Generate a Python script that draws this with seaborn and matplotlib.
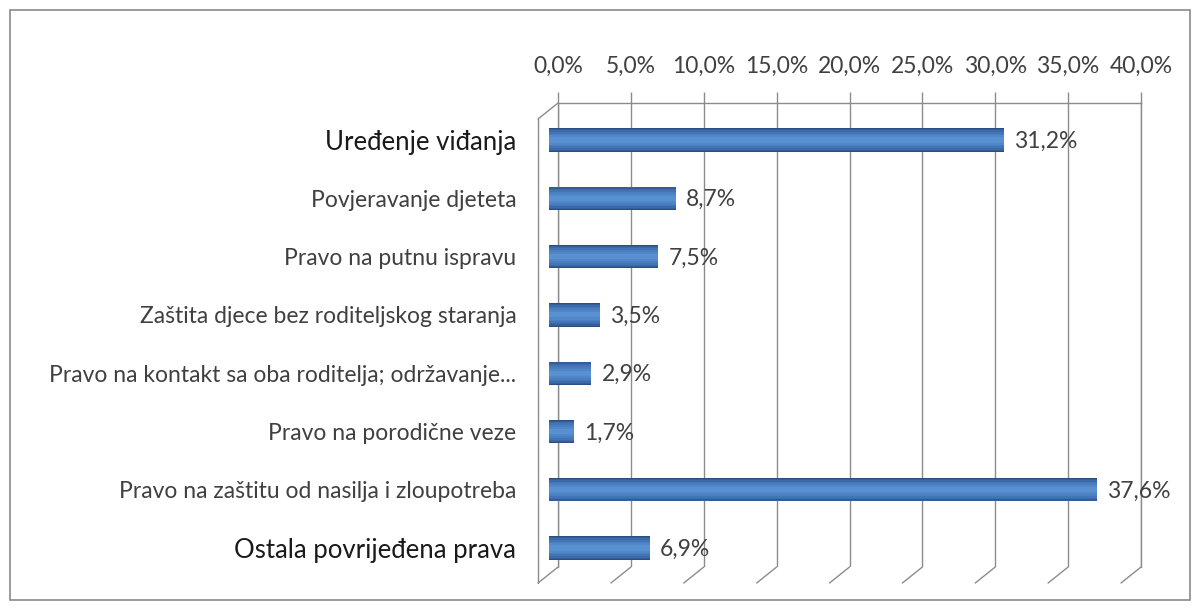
import matplotlib
matplotlib.use("Agg")
import matplotlib.pyplot as plt
import matplotlib.transforms as mtransforms
import seaborn as sns
import pandas as pd
from matplotlib.patches import Rectangle
from matplotlib.ticker import FuncFormatter

# data
categories = [
    "Uređenje viđanja",
    "Povjeravanje djeteta",
    "Pravo na putnu ispravu",
    "Zaštita djece bez roditeljskog staranja",
    "Pravo na kontakt sa oba roditelja; održavanje...",
    "Pravo na porodične veze",
    "Pravo na zaštitu od nasilja i zloupotreba",
    "Ostala povrijeđena prava",
]
values = [31.2, 8.7, 7.5, 3.5, 2.9, 1.7, 37.6, 6.9]
x_ticks = [0, 5, 10, 15, 20, 25, 30, 35, 40]
big_labels = ["Uređenje viđanja", "Ostala povrijeđena prava"]

df = pd.DataFrame({"kategorija": categories, "procenat": values})

sns.set_style("white")
plt.rcParams["font.family"] = ["Lato", "DejaVu Sans"]

fig = plt.figure(figsize=(11.98, 6.08), dpi=100)
ax = fig.add_axes([0.4658, 0.0674, 0.4866, 0.7632])

grid_col = "#8c8c8c"

# cylinder-ish bars: layered from dark edge to light centre
shades = [(0.40, "#2a4f80"), (0.37, "#335e98"), (0.33, "#3b6aa8"), (0.28, "#4274b6"),
          (0.22, "#497ec1"), (0.16, "#5087c9"), (0.09, "#5990d2")]
for w, c in shades:
    sns.barplot(data=df, x="procenat", y="kategorija", orient="h", color=c,
                width=w, saturation=1, linewidth=0, ax=ax)

# shift the bars a bit to the left, like the front face of the 3D chart
shift = mtransforms.ScaledTranslation(-9 / 100, 0, fig.dpi_scale_trans)
for p in ax.patches:
    p.set_transform(ax.transData + shift)
    p.set_clip_on(False)

ax.set_xlim(0, 40)
ax.set_ylim(len(categories) - 1 + 0.325, -0.634)
ax.set_xticks(x_ticks)
ax.xaxis.tick_top()
ax.xaxis.set_major_formatter(FuncFormatter(lambda v, p: f"{v:.1f}".replace(".", ",") + "%"))
ax.tick_params(axis="x", length=8, width=1, color=grid_col, pad=11,
               labelsize=16.5, labelcolor="#404040")
ax.set_axisbelow(True)
ax.grid(axis="x", color=grid_col, linewidth=1)
ax.grid(axis="y", visible=False)
ax.set_xlabel("")
ax.set_ylabel("")

ax.spines["bottom"].set_visible(False)
for side in ["top", "left", "right"]:
    ax.spines[side].set_color(grid_col)
    ax.spines[side].set_linewidth(1)
    ax.spines[side].set_zorder(0.5)

ax.tick_params(axis="y", length=0, pad=30)
for lbl in ax.get_yticklabels():
    if lbl.get_text() in big_labels:
        lbl.set_fontsize(18.5)
        lbl.set_color("#1a1a1a")
    else:
        lbl.set_fontsize(16.5)
        lbl.set_color("#404040")

# 3D floor: slanted feet under each gridline and the left wall edge
blend = mtransforms.blended_transform_factory(ax.transData, ax.transAxes)
for t in x_ticks:
    ax.annotate("", xy=(t, 0), xycoords=blend, xytext=(-20, -16), textcoords="offset pixels",
                arrowprops=dict(arrowstyle="-", color=grid_col, lw=1, shrinkA=0, shrinkB=0),
                annotation_clip=False)
ax.annotate("", xy=(0, 1), xycoords=blend, xytext=(-20, -16), textcoords="offset pixels",
            arrowprops=dict(arrowstyle="-", color=grid_col, lw=1, shrinkA=0, shrinkB=0),
            annotation_clip=False)
wall = blend + mtransforms.ScaledTranslation(-20 / 100, -16 / 100, fig.dpi_scale_trans)
ax.plot([0, 0], [0, 1], transform=wall, color=grid_col, lw=1, clip_on=False, zorder=0.5)

# value labels
for i, v in enumerate(values):
    ax.annotate(f"{v:.1f}".replace(".", ",") + "%", (v, i), xytext=(1, -1),
                textcoords="offset points", va="center", ha="left",
                fontsize=16.5, color="#404040")

# chart border
fig.patches.append(Rectangle((0.008, 0.013), 0.985, 0.970, transform=fig.transFigure,
                             fill=False, edgecolor="#8a8a8a", linewidth=1.2))

fig.savefig("out.png", dpi=100)
